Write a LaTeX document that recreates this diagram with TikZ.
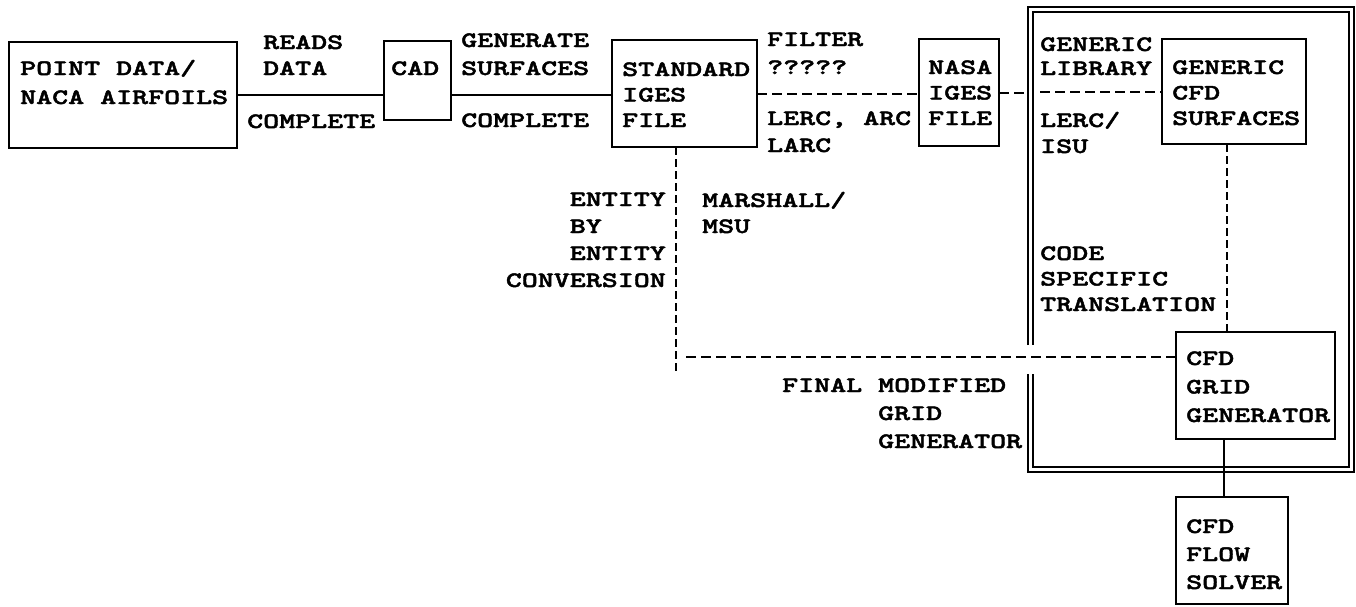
\documentclass[tikz,border=0pt]{standalone}
\usepackage{fontspec}
\newfontfamily\typew{lmmonolt10-bold}[Extension=.otf,FakeStretch=1.385,FakeBold=2]
\begin{document}
\begin{tikzpicture}[x=1pt,y=-1pt,
  box/.style={draw, line width=2pt, anchor=north west, inner sep=0pt, outer sep=0pt},
  lbl/.style={font={\typew\fontsize{22}{27}\selectfont}, inner sep=0pt, align=left, anchor=base west},
  rlbl/.style={lbl, align=right, anchor=base east},
  solidline/.style={line width=2pt},
  dashline/.style={line width=2pt, dash pattern=on 10pt off 5pt},
  vdash/.style={line width=2pt, dash pattern=on 8pt off 4pt},
  dbl/.style={double, line width=1.5pt, double distance=3.5pt}]
\useasboundingbox (0,0) rectangle (1356,606);

% outer double frame
\draw[dbl] (1030.5,345) -- (1030.5,9.5) -- (1351.5,9.5) -- (1351.5,469.5) -- (1030.5,469.5) -- (1030.5,374);
\coordinate (ol) at (1028,0);

% boxes
\node[box, minimum width=228pt, minimum height=106pt] (pd) at (9,42) {};
\node[box, minimum width=67pt, minimum height=79pt] (cad) at (384,41) {};
\node[box, minimum width=145pt, minimum height=107pt] (std) at (612,40) {};
\node[box, minimum width=80pt, minimum height=107pt] (nasa) at (919,39) {};
\node[box, minimum width=144pt, minimum height=105pt] (gcs) at (1162,39) {};
\node[box, minimum width=159pt, minimum height=107pt] (grid) at (1176,332) {};
\node[box, minimum width=112pt, minimum height=107pt] (flow) at (1176,497) {};

% box texts (anchor = baseline of last line)
\node[lbl] (tpd) at (20,104) {POINT DATA/\\[2pt]NACA AIRFOILS};
\node[lbl] (tcad) at (391,75) {CAD};
\node[lbl] (tstd) at (622,127) {STANDARD\\[-1.5pt]IGES\\[-1.5pt]FILE};
\node[lbl] (tnasa) at (928,125) {NASA\\[-1.5pt]IGES\\[-1.5pt]FILE};
\node[lbl] (tgcs) at (1172,125) {GENERIC\\[-1.5pt]CFD\\[-1.5pt]SURFACES};
\node[lbl] (tgrid) at (1186,422) {CFD\\[1.5pt]GRID\\[1.5pt]GENERATOR};
\node[lbl] (tflow) at (1186,589) {CFD\\[1pt]FLOW\\[1pt]SOLVER};

% labels
\node[lbl] (l1) at (263,75) {READS\\[-1pt]DATA};
\node[lbl] (l2) at (247,128) {COMPLETE};
\node[lbl] (l3) at (461,75) {GENERATE\\[1pt]SURFACES};
\node[lbl] (l4) at (461,127) {COMPLETE};
\node[lbl] (l5) at (767,74) {FILTER\\[1pt]?????};
\node[lbl] (l6) at (767,152) {LERC, ARC\\LARC};
\node[lbl] (l7) at (1040,75) {GENERIC\\[-3pt]LIBRARY};
\node[lbl] (l8) at (1040,153) {LERC/\\[-1pt]ISU};
\node[lbl] (l9) at (1040,311) {CODE\\[-1.5pt]SPECIFIC\\[-1.5pt]TRANSLATION};
\node[rlbl] (l10) at (666,287) {ENTITY\\BY\phantom{TITY}\\ENTITY\\CONVERSION};
\node[lbl] (l11) at (702,233) {MARSHALL/\\[-1pt]MSU};
\node[lbl] (l12) at (782,448) {FINAL MODIFIED\\[1pt]\phantom{FINAL }GRID\\[1pt]\phantom{FINAL }GENERATOR};

% connectors
\draw[solidline] (pd.east) -- (pd.east -| cad.west);
\draw[solidline] (pd.east -| cad.east) -- (pd.east -| std.west);
\draw[dashline] (std.east) -- (std.east -| nasa.west);
\draw[dashline] (nasa.east) -- (nasa.east -| ol);
\coordinate (gl) at (1040,92);
\draw[dashline] (gl) -- (gl -| gcs.west);
\coordinate (gv) at (1227,0);
\draw[vdash] (gv |- gcs.south) -- (gv |- grid.north);
\coordinate (ve) at (676,372);
\draw[vdash] (ve |- std.south) -- (ve);
\coordinate (hs) at (686,357);
\draw[dashline] (hs) -- (hs -| grid.west);
\coordinate (gf) at (1224,0);
\draw[solidline] (gf |- grid.south) -- (gf |- flow.north);
\end{tikzpicture}
\end{document}
